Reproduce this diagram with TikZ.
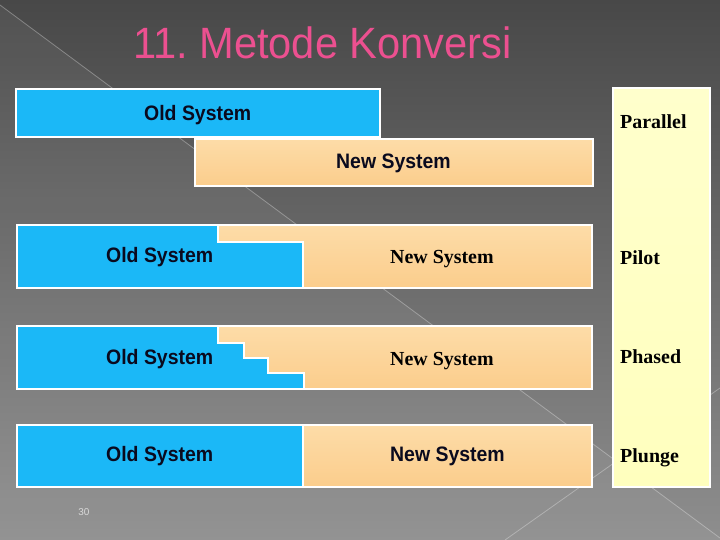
\documentclass[tikz,border=0pt]{standalone}
\usepackage{fontspec}
\setmainfont{Liberation Serif}
\setsansfont{Liberation Sans}
\frenchspacing
\definecolor{bgtop}{HTML}{484848}
\definecolor{bgbot}{HTML}{8E8E8E}
\definecolor{oldblue}{HTML}{1BB8F7}
\definecolor{newtop}{HTML}{FDDCA8}
\definecolor{newbot}{HTML}{FBCD8C}
\definecolor{yeltop}{HTML}{FFFFCC}
\definecolor{yelbot}{HTML}{FFFFBE}
\definecolor{titlepink}{HTML}{EC5090}
\definecolor{navytext}{HTML}{0A0A1E}
\begin{document}
\begin{tikzpicture}[x=1bp,y=-1bp,
  oldbox/.style={fill=oldblue, draw=white, line width=1.8bp, line join=miter},
  newbox/.style={top color=newtop, bottom color=newbot, draw=white, line width=1.8bp},
  yelbox/.style={top color=yeltop, bottom color=yelbot, draw=white, line width=1.8bp},
  deco/.style={white, opacity=0.3, line width=0.8bp},
  sanslbl/.style={anchor=base west, inner sep=0, font=\sffamily\bfseries\fontsize{21}{24}\selectfont, xscale=0.93, text=navytext},
  seriflbl/.style={anchor=base west, inner sep=0, font=\rmfamily\bfseries\fontsize{20}{24}\selectfont, text=black},
  titletxt/.style={anchor=base, inner sep=0, font=\sffamily\fontsize{44}{50}\selectfont, xscale=0.95}
]
\useasboundingbox (0,0) rectangle (720,540);
% background
\shade[top color=bgtop, bottom color=bgbot] (0,0) rectangle (720,540);
\fill[white, opacity=0.05] (0,5) -- (720,538) -- (720,540) -- (0,540) -- cycle;
\draw[deco] (0,5) -- (720,538);
\draw[deco] (505,540) -- (720,388);

% title
\node[titletxt, text=titlepink] (title) at (322.5,59) {11. Metode Konversi};

% yellow strip
\path[yelbox] (613,88) rectangle (710,487);

% parallel row
\path[oldbox] (16,89) rectangle (380,137);
\path[newbox] (195,139) rectangle (593,186);

% pilot row
\path[newbox] (218,225) rectangle (592,288);
\path[oldbox] (17,225) -- (218,225) -- (218,242) -- (303,242) -- (303,288) -- (17,288) -- cycle;

% phased row
\path[newbox] (218,326) rectangle (592,389);
\path[oldbox] (17,326) -- (218,326) -- (218,343) -- (244,343) -- (244,358) -- (268,358)
  -- (268,373) -- (304,373) -- (304,389) -- (17,389) -- cycle;

% plunge row
\path[newbox] (303,425) rectangle (592,487);
\path[oldbox] (17,425) rectangle (303,487);

% labels
\node[sanslbl] (old1) at (144,120.5) {Old System};
\node[sanslbl] (new1) at (336,168.5) {New System};
\node[seriflbl] (parallel) at (620,129) {Parallel};

\node[sanslbl] (old2) at (106,263) {Old System};
\node[seriflbl] (new2) at (390,264) {New System};
\node[seriflbl] (pilot) at (620,265) {Pilot};

\node[sanslbl] (old3) at (106,364) {Old System};
\node[seriflbl] (new3) at (390,365) {New System};
\node[seriflbl] (phased) at (620,363) {Phased};

\node[sanslbl] (old4) at (106,461.5) {Old System};
\node[sanslbl] (new4) at (390,461.5) {New System};
\node[seriflbl] (plunge) at (620,462) {Plunge};

\node[inner sep=0, font=\sffamily\fontsize{10}{12}\selectfont, text=black!15] (pagenum) at (84,512) {30};
\end{tikzpicture}
\end{document}
